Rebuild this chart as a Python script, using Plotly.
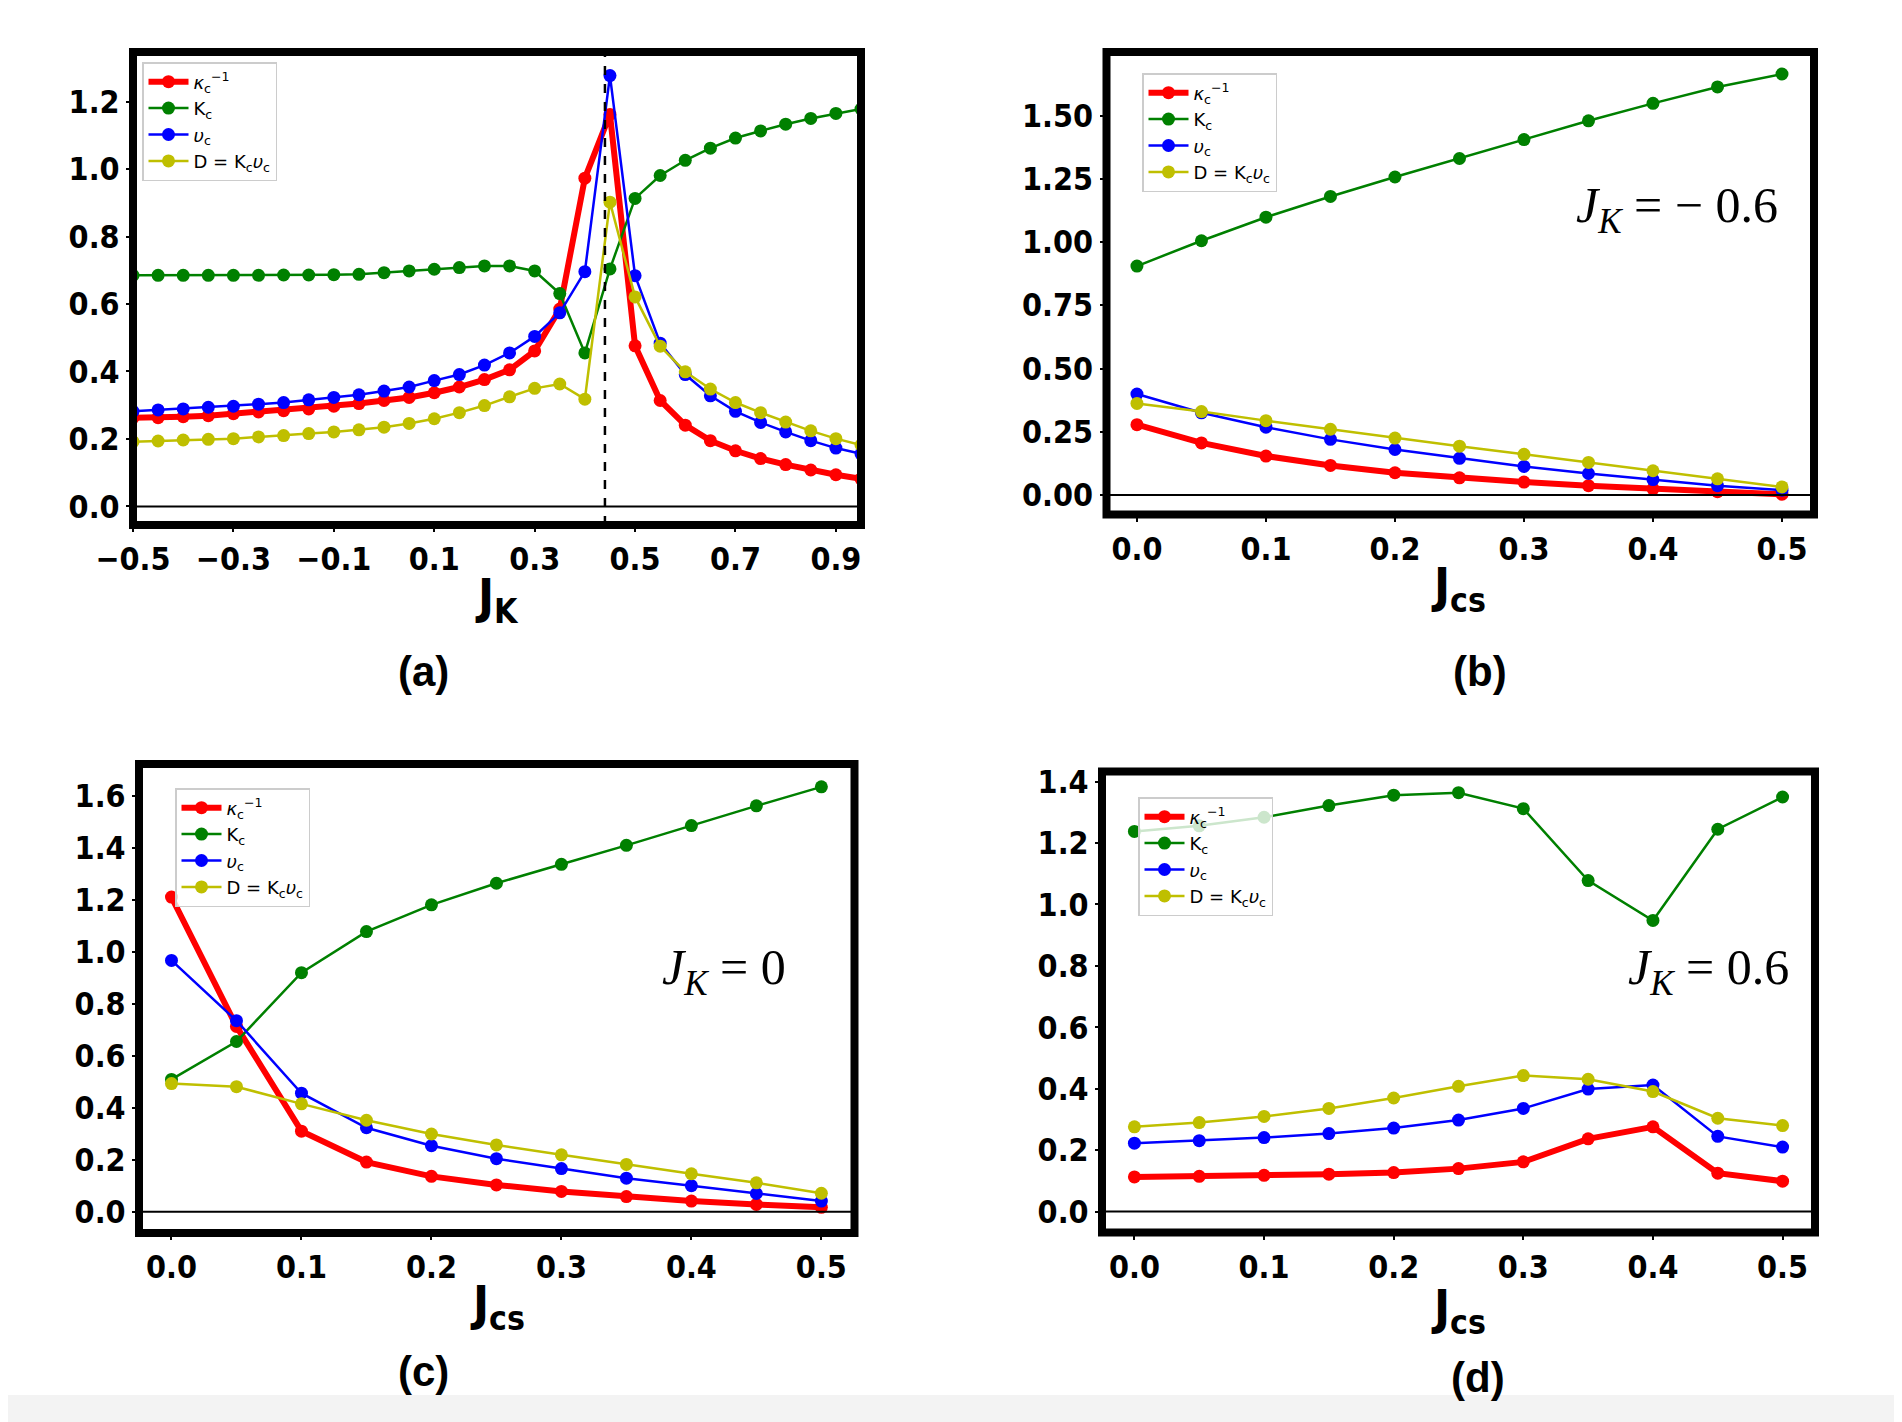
import plotly.graph_objects as go

W, H = 1902, 1422
BODY = 8  # default page margin around the plot div

# ---- data ----
jk = [-0.5, -0.45, -0.4, -0.35, -0.3, -0.25, -0.2, -0.15, -0.1, -0.05,
      0.0, 0.05, 0.1, 0.15, 0.2, 0.25, 0.3, 0.35, 0.4, 0.45,
      0.5, 0.55, 0.6, 0.65, 0.7, 0.75, 0.8, 0.85, 0.9, 0.95]
a_kappa = [0.263, 0.263, 0.266, 0.269, 0.275, 0.280, 0.284, 0.289, 0.297, 0.305,
           0.314, 0.323, 0.337, 0.354, 0.376, 0.405, 0.461, 0.585, 0.973, 1.162,
           0.476, 0.314, 0.241, 0.195, 0.165, 0.142, 0.124, 0.108, 0.094, 0.082]
a_K = [0.685, 0.685, 0.685, 0.685, 0.685, 0.685, 0.686, 0.686, 0.687, 0.688,
       0.693, 0.698, 0.703, 0.708, 0.713, 0.713, 0.698, 0.631, 0.455, 0.704,
       0.913, 0.981, 1.026, 1.062, 1.092, 1.113, 1.133, 1.150, 1.165, 1.178]
a_v = [0.282, 0.286, 0.289, 0.294, 0.297, 0.303, 0.308, 0.316, 0.323, 0.331,
       0.342, 0.354, 0.373, 0.391, 0.419, 0.455, 0.504, 0.574, 0.696, 1.277,
       0.684, 0.484, 0.391, 0.328, 0.282, 0.249, 0.221, 0.195, 0.173, 0.156]
a_D = [0.192, 0.194, 0.197, 0.199, 0.201, 0.206, 0.210, 0.216, 0.221, 0.227,
       0.235, 0.246, 0.260, 0.278, 0.299, 0.325, 0.350, 0.363, 0.318, 0.902,
       0.621, 0.475, 0.399, 0.348, 0.308, 0.278, 0.250, 0.224, 0.201, 0.182]
jk_crit = 0.44

jcs = [0.0, 0.05, 0.1, 0.15, 0.2, 0.25, 0.3, 0.35, 0.4, 0.45, 0.5]

b_kappa = [0.278, 0.206, 0.154, 0.117, 0.088, 0.068, 0.051, 0.037, 0.024, 0.013, 0.003]
b_K = [0.905, 1.005, 1.098, 1.180, 1.257, 1.330, 1.405, 1.479, 1.548, 1.613, 1.664]
b_v = [0.399, 0.325, 0.268, 0.220, 0.180, 0.145, 0.113, 0.085, 0.061, 0.037, 0.019]
b_D = [0.362, 0.330, 0.294, 0.260, 0.225, 0.193, 0.161, 0.129, 0.096, 0.064, 0.032]

c_kappa = [1.211, 0.713, 0.310, 0.191, 0.136, 0.103, 0.078, 0.058, 0.041, 0.028, 0.017]
c_K = [0.509, 0.655, 0.920, 1.078, 1.181, 1.264, 1.337, 1.410, 1.486, 1.562, 1.635]
c_v = [0.967, 0.735, 0.456, 0.323, 0.254, 0.204, 0.166, 0.129, 0.100, 0.070, 0.041]
c_D = [0.493, 0.481, 0.415, 0.352, 0.299, 0.257, 0.219, 0.182, 0.146, 0.111, 0.071]

d_kappa = [0.113, 0.115, 0.118, 0.122, 0.127, 0.140, 0.162, 0.237, 0.276, 0.125, 0.099]
d_K = [1.238, 1.256, 1.284, 1.322, 1.356, 1.364, 1.312, 1.078, 0.948, 1.245, 1.350]
d_v = [0.223, 0.231, 0.241, 0.254, 0.272, 0.298, 0.336, 0.399, 0.412, 0.245, 0.210]
d_D = [0.276, 0.290, 0.310, 0.336, 0.370, 0.408, 0.443, 0.431, 0.391, 0.304, 0.280]

names = ["<i>κ</i><sub>c</sub><sup>−1</sup>", "K<sub>c</sub>",
         "<i>υ</i><sub>c</sub>", "D = K<sub>c</sub><i>υ</i><sub>c</sub>"]
colors = ["#ff0000", "#008000", "#0000ff", "#bfbf00"]
widths = [6, 2.5, 2.5, 2.5]

a_xticks = [-0.5, -0.3, -0.1, 0.1, 0.3, 0.5, 0.7, 0.9]
a_xtext = ["−0.5", "−0.3", "−0.1", "0.1", "0.3", "0.5", "0.7", "0.9"]
a_yticks = [0.0, 0.2, 0.4, 0.6, 0.8, 1.0, 1.2]
a_ytext = ["0.0", "0.2", "0.4", "0.6", "0.8", "1.0", "1.2"]
cs_xticks = [0.0, 0.1, 0.2, 0.3, 0.4, 0.5]
cs_xtext = ["0.0", "0.1", "0.2", "0.3", "0.4", "0.5"]
b_yticks = [0.0, 0.25, 0.5, 0.75, 1.0, 1.25, 1.5]
b_ytext = ["0.00", "0.25", "0.50", "0.75", "1.00", "1.25", "1.50"]
c_yticks = [0.0, 0.2, 0.4, 0.6, 0.8, 1.0, 1.2, 1.4, 1.6]
c_ytext = ["0.0", "0.2", "0.4", "0.6", "0.8", "1.0", "1.2", "1.4", "1.6"]
d_yticks = [0.0, 0.2, 0.4, 0.6, 0.8, 1.0, 1.2, 1.4]
d_ytext = ["0.0", "0.2", "0.4", "0.6", "0.8", "1.0", "1.2", "1.4"]


def px_x(x):
    return (x - BODY) / W


def px_y(y):
    return 1 - (y - BODY) / H


# panel boxes in screen pixels: left, right, top, bottom  (frame centre lines)
panels = [
    dict(box=(133, 861, 52, 525), xr=[-0.5, 0.95], yr=[-0.055, 1.347],
         x=jk, ys=[a_kappa, a_K, a_v, a_D], xt=(a_xticks, a_xtext), yt=(a_yticks, a_ytext),
         leg=(142, 62), title="J<sub>K</sub>", tpos=(497, 600), lab="(a)", lpos=(423, 671)),
    dict(box=(1106.5, 1814, 52, 514.5), xr=[-0.0236, 0.5248], yr=[-0.077, 1.751],
         x=jcs, ys=[b_kappa, b_K, b_v, b_D], xt=(cs_xticks, cs_xtext), yt=(b_yticks, b_ytext),
         leg=(1142, 73), title="J<sub>cs</sub>", tpos=(1458, 588), lab="(b)", lpos=(1480, 671)),
    dict(box=(139, 854.5, 764, 1233), xr=[-0.025, 0.5255], yr=[-0.082, 1.723],
         x=jcs, ys=[c_kappa, c_K, c_v, c_D], xt=(cs_xticks, cs_xtext), yt=(c_yticks, c_ytext),
         leg=(175, 788), title="J<sub>cs</sub>", tpos=(497, 1306), lab="(c)", lpos=(423, 1371)),
    dict(box=(1102, 1815, 771.5, 1232.5), xr=[-0.025, 0.525], yr=[-0.068, 1.433],
         x=jcs, ys=[d_kappa, d_K, d_v, d_D], xt=(cs_xticks, cs_xtext), yt=(d_yticks, d_ytext),
         leg=(1138, 797), title="J<sub>cs</sub>", tpos=(1458, 1310), lab="(d)", lpos=(1478, 1377)),
]

jk_notes = [None, ("<i>J</i><sub><i>K</i></sub> = − 0.6", 1677, 209),
            ("<i>J</i><sub><i>K</i></sub> = 0", 724, 971),
            ("<i>J</i><sub><i>K</i></sub> = 0.6", 1708, 971)]

tick_font = dict(family="DejaVu Sans Condensed, Liberation Sans Narrow, DejaVu Sans",
                 size=32, color="black", weight="bold")

fig = go.Figure()
layout = dict(width=W, height=H, margin=dict(l=0, r=0, t=0, b=0, autoexpand=False),
              paper_bgcolor="white", plot_bgcolor="white", showlegend=True)
shapes = []
annotations = []

for i, p in enumerate(panels):
    n = "" if i == 0 else str(i + 1)
    xa, ya = "x" + n, "y" + n
    leg = "legend" + n
    for name, col, lw, yv in zip(names, colors, widths, p["ys"]):
        fig.add_trace(go.Scatter(
            x=p["x"], y=yv, mode="lines+markers", name=name,
            line=dict(color=col, width=lw), marker=dict(color=col, size=13),
            xaxis=xa, yaxis=ya, legend=leg))
    l, r, t, b = p["box"]
    layout["xaxis" + n] = dict(
        domain=[px_x(l), px_x(r)], range=p["xr"], anchor=ya, automargin=False,
        showgrid=False, zeroline=False, showline=False,
        ticks="outside", ticklen=6, tickwidth=1.5, tickcolor="black",
        tickvals=p["xt"][0], ticktext=p["xt"][1], tickfont=tick_font)
    layout["yaxis" + n] = dict(
        domain=[px_y(b), px_y(t)], range=p["yr"], anchor=xa, automargin=False,
        showgrid=False, zeroline=False, showline=False,
        ticks="outside", ticklen=6, tickwidth=1.5, tickcolor="black",
        tickvals=p["yt"][0], ticktext=p["yt"][1], tickfont=tick_font)
    layout[leg] = dict(
        x=px_x(p["leg"][0]), y=px_y(p["leg"][1]), xanchor="left", yanchor="top",
        bgcolor="rgba(255,255,255,0.8)", bordercolor="#cccccc", borderwidth=1.5,
        font=dict(family="DejaVu Sans", size=18, color="black"),
        tracegroupgap=0, itemwidth=40)
    # zero line
    shapes.append(dict(type="line", xref=xa + " domain", yref=ya,
                       x0=0, x1=1, y0=0, y1=0, line=dict(color="black", width=2)))
    # heavy frame
    shapes.append(dict(type="rect", xref=xa + " domain", yref=ya + " domain",
                       x0=0, x1=1, y0=0, y1=1, line=dict(color="black", width=8),
                       layer="above"))
    annotations.append(dict(
        text=p["title"], x=px_x(p["tpos"][0]), y=px_y(p["tpos"][1]),
        xref="paper", yref="paper", showarrow=False, xanchor="center", yanchor="middle",
        font=dict(family="DejaVu Sans Condensed, DejaVu Sans", size=48,
                  color="black", weight="bold")))
    annotations.append(dict(
        text=p["lab"], x=px_x(p["lpos"][0]), y=px_y(p["lpos"][1]),
        xref="paper", yref="paper", showarrow=False, xanchor="center", yanchor="middle",
        font=dict(family="Liberation Sans, Arial", size=42, color="black", weight="bold")))
    if jk_notes[i]:
        txt, nx, ny = jk_notes[i]
        annotations.append(dict(
            text=txt, x=px_x(nx), y=px_y(ny), xref="paper", yref="paper",
            showarrow=False, xanchor="center", yanchor="middle",
            font=dict(family="Liberation Serif, DejaVu Serif", size=50, color="black")))

# critical J_K marker in (a)
shapes.append(dict(type="line", xref="x", yref="y domain", x0=jk_crit, x1=jk_crit,
                   y0=0, y1=1, line=dict(color="black", width=2.5, dash="dash")))
# faint grey strip at the bottom of the picture
shapes.append(dict(type="rect", xref="paper", yref="paper", x0=0, x1=1,
                   y0=0, y1=px_y(1395), fillcolor="#f3f3f3", line=dict(width=0),
                   layer="below"))

layout["shapes"] = shapes
layout["annotations"] = annotations
fig.update_layout(**layout)

fig.write_html("out.html")
